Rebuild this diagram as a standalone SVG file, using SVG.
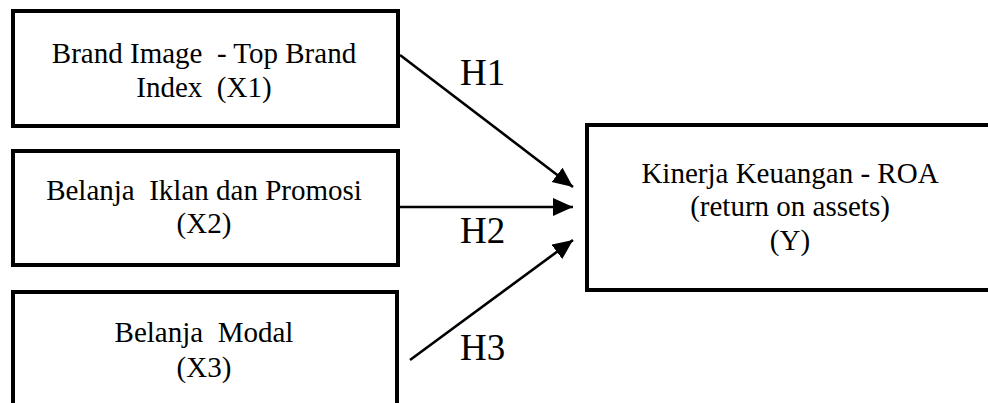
<svg xmlns="http://www.w3.org/2000/svg" width="988" height="403" viewBox="0 0 988 403">
<style>
.box{fill:#fff;stroke:#000;stroke-width:4}
.t{font-size:29px;fill:#000;text-anchor:middle}
.h{font-size:37px;fill:#000}
.c{stroke:#000;stroke-width:2.6;fill:none}
</style>
<defs>
<marker id="ah" markerUnits="userSpaceOnUse" markerWidth="22" markerHeight="20" refX="20" refY="9" orient="auto" viewBox="0 0 22 20">
<path d="M0,0 L20,9 L0,18 Z" fill="#000"/>
</marker>
</defs>
<rect width="988" height="403" fill="#fff"/>
<g font-family="Liberation Serif, Times New Roman, serif">
<g id="x1">
<rect class="box" x="13" y="11" width="385" height="115"/>
<text class="t" x="204" y="63" xml:space="preserve">Brand Image  - Top Brand</text>
<text class="t" x="204" y="97" xml:space="preserve">Index  (X1)</text>
</g>
<g id="x2">
<rect class="box" x="13" y="151" width="385" height="114"/>
<text class="t" x="204" y="200" xml:space="preserve">Belanja  Iklan dan Promosi</text>
<text class="t" x="204" y="233">(X2)</text>
</g>
<g id="x3">
<rect class="box" x="13" y="292" width="384" height="130"/>
<text class="t" x="204" y="342" xml:space="preserve">Belanja  Modal</text>
<text class="t" x="204" y="377">(X3)</text>
</g>
<g id="y">
<rect class="box" x="587" y="125" width="420" height="165"/>
<text class="t" x="790" y="183">Kinerja Keuangan - ROA</text>
<text class="t" x="790" y="216">(return on assets)</text>
<text class="t" x="790" y="250">(Y)</text>
</g>
<g id="connectors">
<line class="c" x1="400" y1="55" x2="573" y2="187" marker-end="url(#ah)"/>
<line class="c" x1="400" y1="207" x2="573" y2="207" marker-end="url(#ah)"/>
<line class="c" x1="410" y1="360" x2="573" y2="240" marker-end="url(#ah)"/>
<text class="h" x="460" y="85">H1</text>
<text class="h" x="460" y="243">H2</text>
<text class="h" x="460" y="360">H3</text>
</g>
</g>
</svg>
